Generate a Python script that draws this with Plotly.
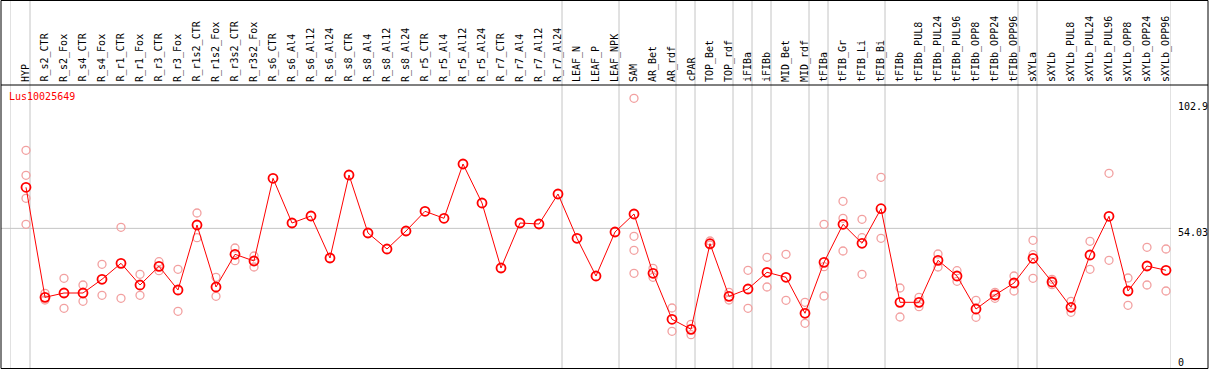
import plotly.graph_objects as go

categories = ["HYP", "R_s2_CTR", "R_s2_Fox", "R_s4_CTR", "R_s4_Fox", "R_r1_CTR", "R_r1_Fox",
              "R_r3_CTR", "R_r3_Fox", "R_r1s2_CTR", "R_r1s2_Fox", "R_r3s2_CTR", "R_r3s2_Fox",
              "R_s6_CTR", "R_s6_Al4", "R_s6_Al12", "R_s6_Al24", "R_s8_CTR", "R_s8_Al4",
              "R_s8_Al12", "R_s8_Al24", "R_r5_CTR", "R_r5_Al4", "R_r5_Al12", "R_r5_Al24",
              "R_r7_CTR", "R_r7_Al4", "R_r7_Al12", "R_r7_Al24", "LEAF_N", "LEAF_P", "LEAF_NPK",
              "SAM", "AR_Bet", "AR_rdf", "cPAR", "TOP_Bet", "TOP_rdf", "iFIBa", "iFIBb",
              "MID_Bet", "MID_rdf", "tFIBa", "tFIB_Gr", "tFIB_Li", "tFIB_Bi", "tFIBb",
              "tFIBb_PUL8", "tFIBb_PUL24", "tFIBb_PUL96", "tFIBb_OPP8", "tFIBb_OPP24",
              "tFIBb_OPP96", "sXYLa", "sXYLb", "sXYLb_PUL8", "sXYLb_PUL24", "sXYLb_PUL96",
              "sXYLb_OPP8", "sXYLb_OPP24", "sXYLb_OPP96"]

mean_values = [70.03, 27.16, 28.84, 28.84, 34.18, 40.41, 31.96, 39.24, 30.01, 55.34, 31.18,
               43.92, 41.31, 73.54, 56.12, 58.85, 42.48, 74.82, 52.22, 45.99, 53.00, 60.68,
               57.95, 79.11, 63.91, 38.58, 56.12, 55.73, 67.42, 50.16, 35.46, 52.61, 59.63,
               36.52, 18.59, 14.69, 48.05, 27.55, 30.40, 36.91, 34.96, 20.93, 40.80, 55.61,
               48.21, 61.69, 25.21, 25.21, 41.58, 35.46, 22.60, 28.06, 32.74, 42.36, 33.13,
               23.27, 43.65, 58.73, 29.62, 39.36, 37.69]

N = None
rep_1 = [84.45, 28.72, 34.57, 31.96, 40.02, 54.44, 36.13, 41.04, 38.07, 60.02, 34.96,
         46.38, 43.26, N, N, N, N, N, N, N, N, N, N, N, N, N, N, N, N, N, N, N, 104.72,
         38.46, 22.99, 16.64, 49.10, 29.11, 37.69, 42.75, 43.92, 25.21, 55.61, 64.58,
         57.56, 73.93, 30.79, 27.16, 44.04, 37.53, 25.99, 29.11, 35.46, 49.38, 34.18,
         25.60, 48.99, 75.49, 34.68, 46.65, 45.99]
rep_2 = [74.71, 26.11, 22.88, 25.60, 27.94, 26.77, 27.94, 37.53, 21.71, 50.39, 27.55,
         41.43, 38.97, N, N, N, N, N, N, N, N, N, N, N, N, N, N, N, N, N, N, N, 50.94,
         34.96, 13.91, 12.59, 47.54, 26.11, 22.88, 31.18, 25.99, 17.03, 39.09, 57.95,
         50.39, 50.16, 19.49, 23.50, 38.97, 33.40, 19.37, 26.77, 29.62, 43.77, 32.07,
         21.32, 38.07, 41.58, 24.05, 31.96, 29.62]
rep_3 = [65.74, N, N, N, N, N, N, N, N, N, N, N, N, N, N, N, N, N, N, N, N, N, N, N, N,
         N, N, N, N, N, N, N, 45.48, N, N, N, N, N, N, N, N, N, 27.67, 45.21, 36.13, N,
         N, N, N, N, N, N, N, 34.57, N, N, N, N, N, N, N]
rep_4 = [55.61, N, N, N, N, N, N, N, N, N, N, N, N, N, N, N, N, N, N, N, N, N, N, N, N,
         N, N, N, N, N, N, N, 36.52, N, N, N, N, N, N, N, N, N, N, N, N, N,
         N, N, N, N, N, N, N, N, N, N, N, N, N, N, N]

# index of last category before each gray separator
group_ends = [0, 28, 31, 34, 35, 37, 38, 39, 41, 42, 45, 52, 53]
y_ticks = [0, 54.03, 102.9]
y_tick_labels = ["0", "54.03", "102.9"]
title_text = "Lus10025649"

# ---- layout geometry (pixels) ----
W, H = 1209, 370
L, R, T, B = 10, 38, 85, 2
pw, ph = W - L - R, H - T - B
step = 19.0
x0_px = 26  # pixel position of first category centre (from left of figure)
xr = [(L - x0_px) / step, (L + pw - x0_px) / step]
px_per_unit = 2.566
y_zero_px = 367
yr = [-(H - B - y_zero_px) / px_per_unit, (y_zero_px - T) / px_per_unit]

def paper_x(px):
    return (px - L) / pw

def paper_y(py):
    return (H - B - py) / ph

FONT = "DejaVu Sans Mono"
xs = list(range(len(categories)))

fig = go.Figure()

rep_color = "#f2a0a0"
for rep in (rep_1, rep_2, rep_3, rep_4):
    fig.add_trace(go.Scatter(
        x=xs, y=rep, mode="markers",
        marker=dict(symbol="circle-open", size=8, color=rep_color, line=dict(width=1.3, color=rep_color)),
        hoverinfo="skip", showlegend=False, cliponaxis=False))

fig.add_trace(go.Scatter(
    x=xs, y=mean_values, mode="lines+markers",
    line=dict(color="#ff0000", width=1),
    marker=dict(symbol="circle-open", size=9, color="#ff0000", line=dict(width=1.8, color="#ff0000")),
    showlegend=False, cliponaxis=False))

shapes = []
gray = "#c4c4c4"
top_paper = paper_y(0.5)
# left and right edges of the data area plus group separators
sep_positions = [xr[0]] + [g + (30 - x0_px) / step for g in group_ends] + [xr[1]]
for sx in sep_positions:
    shapes.append(dict(type="line", xref="x", yref="paper", x0=sx, x1=sx, y0=0, y1=top_paper,
                       line=dict(color=gray, width=1), layer="below"))
# horizontal grid line at middle tick
shapes.append(dict(type="line", xref="paper", yref="y", x0=paper_x(1), x1=1, y0=y_ticks[1], y1=y_ticks[1],
                   line=dict(color=gray, width=1), layer="below"))
# black frame + header separator
blk = dict(color="black", width=1)
shapes.append(dict(type="rect", xref="paper", yref="paper", x0=paper_x(1), x1=paper_x(1208),
                   y0=paper_y(368.5), y1=top_paper, line=blk))
shapes.append(dict(type="line", xref="paper", yref="paper", x0=paper_x(1), x1=paper_x(1208),
                   y0=1, y1=1, line=blk))

annotations = []
for i, c in enumerate(categories):
    annotations.append(dict(x=i, y=paper_y(83), xref="x", yref="paper", text=c, showarrow=False,
                            textangle=-90, xanchor="center", yanchor="bottom",
                            font=dict(family=FONT, size=10, color="black"), borderpad=0))
annotations.append(dict(x=paper_x(8), y=paper_y(97), xref="paper", yref="paper", text=title_text,
                        showarrow=False, xanchor="left", yanchor="middle",
                        font=dict(family=FONT, size=10, color="#ff0000"), borderpad=0))
shifts = [5, -4, -4]
for v, lab, s in zip(y_ticks, y_tick_labels, shifts):
    annotations.append(dict(x=paper_x(1177), y=v, xref="paper", yref="y", text=lab, showarrow=False,
                            xanchor="left", yanchor="middle", yshift=s,
                            font=dict(family=FONT, size=10, color="black"), borderpad=0))

fig.update_layout(
    width=W, height=H,
    margin=dict(l=L, r=R, t=T, b=B, pad=0),
    paper_bgcolor="white", plot_bgcolor="white",
    xaxis=dict(range=xr, showgrid=False, zeroline=False, showticklabels=False, showline=False, fixedrange=True),
    yaxis=dict(range=yr, showgrid=False, zeroline=False, showticklabels=False, showline=False, fixedrange=True),
    shapes=shapes, annotations=annotations, showlegend=False,
)

fig.write_html("out.html",
               config={"displayModeBar": False},
               post_script="document.body.style.margin='0';document.body.style.padding='0';"
                           "document.body.style.overflow='hidden';")
